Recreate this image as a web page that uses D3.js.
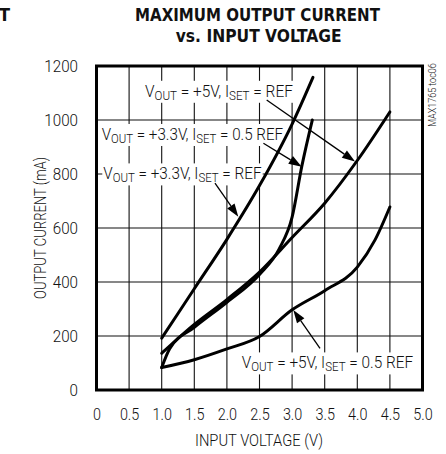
<!DOCTYPE html>
<html><head><meta charset="utf-8">
<script src="https://cdn.jsdelivr.net/npm/d3@7"></script>
<style>
html,body{margin:0;padding:0;background:#fff;}
svg{display:block;}
text{font-family:Roboto,'DejaVu Sans Condensed',sans-serif;font-weight:300;fill:#111;}
text.b{font-family:'DejaVu Sans Condensed','DejaVu Sans',sans-serif;font-weight:bold;}
</style></head>
<body>
<svg id="chart" width="446" height="454"></svg>
<script>
// ---- data ----
const xTicks = [0, 0.5, 1.0, 1.5, 2.0, 2.5, 3.0, 3.5, 4.0, 4.5, 5.0];
const xTickLabels = ["0","0.5","1.0","1.5","2.0","2.5","3.0","3.5","4.0","4.5","5.0"];
const yTicks = [0, 200, 400, 600, 800, 1000, 1200];
const yTickLabels = ["0","200","400","600","800","1000","1200"];

// VOUT = +3.3V, ISET = REF
const v33RefVin = [1.0, 1.5, 2.0, 2.5, 3.0, 3.32];
const v33RefI   = [192, 375, 558, 757, 985, 1158];
// VOUT = +3.3V, ISET = 0.5 REF
const v33HalfVin = [1.0, 1.12, 1.5, 2.0, 2.5, 2.8, 3.0, 3.15, 3.31];
const v33HalfI   = [83, 152, 232, 325, 428, 522, 640, 830, 1000];
// VOUT = +5V, ISET = REF
const v5RefVin = [1.0, 1.5, 2.0, 2.5, 3.0, 3.5, 4.0, 4.5];
const v5RefI   = [136, 243, 335, 437, 565, 692, 850, 1030];
// VOUT = +5V, ISET = 0.5 REF
const v5HalfVin = [1.0, 1.5, 2.0, 2.5, 3.0, 3.5, 4.0, 4.27, 4.5];
const v5HalfI   = [83, 112, 152, 198, 297, 368, 455, 555, 678];

const series = [
  {vin: v33RefVin, i: v33RefI},
  {vin: v33HalfVin, i: v33HalfI},
  {vin: v5RefVin, i: v5RefI},
  {vin: v5HalfVin, i: v5HalfI}
];

// ---- layout ----
const svg = d3.select("#chart");
const x = d3.scaleLinear().domain([0, 5]).range([96.5, 422.5]);
const y = d3.scaleLinear().domain([0, 1200]).range([390, 66]);

// horizontal fit helper
function fit(sel, target) {
  const n = sel.node();
  const w = n.getBBox().width;
  const k = target / w;
  const tx = +sel.attr("data-x"), ty = +sel.attr("data-y");
  sel.attr("x", 0).attr("y", 0)
     .attr("transform", `translate(${tx},${ty}) scale(${k},1)`);
  return k;
}

// title
const t1 = svg.append("text").attr("class","b").attr("data-x", 257.5).attr("data-y", 20.7).attr("text-anchor","middle")
  .attr("font-size", 18).text("MAXIMUM OUTPUT CURRENT");
fit(t1, 245);
const t2 = svg.append("text").attr("class","b").attr("data-x", 258.7).attr("data-y", 41.7).attr("text-anchor","middle")
  .attr("font-size", 18).text("vs. INPUT VOLTAGE");
fit(t2, 166);
svg.append("text").attr("class","b").attr("x", -1).attr("y", 20.7).attr("font-size", 18).text("T");

// grid
const g = svg.append("g");
g.selectAll("line.vg").data(xTicks.slice(1, -1)).join("line")
  .attr("x1", d => x(d)).attr("x2", d => x(d)).attr("y1", y(0)).attr("y2", y(1200))
  .attr("stroke", "#111").attr("stroke-width", 1.1);
g.selectAll("line.hg").data(yTicks.slice(1, -1)).join("line")
  .attr("y1", d => y(d)).attr("y2", d => y(d)).attr("x1", x(0)).attr("x2", x(5))
  .attr("stroke", "#111").attr("stroke-width", 1.1);

// axes labels
const xAxis = d3.axisBottom(x).tickValues(xTicks).tickSize(0).tickPadding(0)
  .tickFormat((d, i) => xTickLabels[i]);
const xa = svg.append("g").attr("transform", `translate(0,${y(0)})`).call(xAxis);
xa.select(".domain").remove();
xa.selectAll("text").attr("y", 30).attr("dy", 0).attr("font-size", 16).attr("fill","#111")
  .attr("font-family", null).attr("font-weight", 300)
  .each(function() {
    const s = d3.select(this), w = this.getBBox().width;
    const cx = +s.attr("x") || 0;
    s.attr("transform", `translate(${cx},0) scale(0.9,1)`).attr("x", 0);
  });

const yAxis = d3.axisLeft(y).tickValues(yTicks).tickSize(0).tickPadding(0)
  .tickFormat((d, i) => yTickLabels[i]);
const ya = svg.append("g").attr("transform", `translate(78,0)`).call(yAxis);
ya.select(".domain").remove();
ya.selectAll("text").attr("x", 0).attr("dy", "0.36em").attr("font-size", 16).attr("fill","#111")
  .attr("font-family", null).attr("font-weight", 300)
  .attr("transform", "scale(0.95,1)");

// axis titles
const xt = svg.append("text").attr("data-x", 259).attr("data-y", 446).attr("text-anchor","middle")
  .attr("font-size", 16).text("INPUT VOLTAGE (V)");
fit(xt, 128);
const yt = svg.append("text").attr("text-anchor","middle").attr("font-size", 16).text("OUTPUT CURRENT (mA)");
{
  const w = yt.node().getBBox().width;
  yt.attr("transform", `translate(46,${(y(0)+y(1200))/2}) rotate(-90) scale(${142 / w},1)`);
}

// watermark
const wm = svg.append("text").attr("text-anchor","middle").attr("font-size", 10).attr("fill","#555")
  .text("MAX1765 toc06");
{
  const w = wm.node().getBBox().width;
  wm.attr("transform", `translate(436,95) rotate(-90) scale(${64 / w},1)`);
}

// annotations (in data units)
const annos = [
  {pre:"V", sub1:"OUT", mid:" = +5V, I", sub2:"SET", post:" = REF", lx:0.744, ly:1086, w:148,
   tail:[2.61,1074], tip:[3.965,846]},
  {pre:"V", sub1:"OUT", mid:" = +3.3V, I", sub2:"SET", post:" = 0.5 REF", lx:0.08, ly:926, w:181.6,
   tail:[2.56,914], tip:[3.147,827]},
  {pre:"V", sub1:"OUT", mid:" = +3.3V, I", sub2:"SET", post:" = REF", lx:0.104, ly:780, w:158.4,
   tail:[1.817,766], tip:[2.175,642]},
  {pre:"V", sub1:"OUT", mid:" = +5V, I", sub2:"SET", post:" = 0.5 REF", lx:2.227, ly:80, w:171.6,
   tail:[3.428,154], tip:[3.018,296]}
];

const bgLayer = svg.append("g");
const curveLayer = svg.append("g");
const textLayer = svg.append("g");
const arrowLayer = svg.append("g");

annos.forEach(a => {
  const t = textLayer.append("text").attr("data-x", x(a.lx)).attr("data-y", y(a.ly))
    .attr("font-size", 16);
  t.append("tspan").text(a.pre);
  t.append("tspan").attr("font-size", 12).attr("dy", 3).text(a.sub1);
  t.append("tspan").attr("dy", -3).text(a.mid);
  t.append("tspan").attr("font-size", 12).attr("dy", 3).text(a.sub2);
  t.append("tspan").attr("dy", -3).text(a.post);
  const bb = t.node().getBBox();
  fit(t, a.w);
  bgLayer.append("rect")
    .attr("x", x(a.lx) - 1).attr("y", y(a.ly) + bb.y - 1)
    .attr("width", a.w + 2).attr("height", bb.height + 1)
    .attr("fill", "#fff");
  // arrow
  const x1 = x(a.tail[0]), y1 = y(a.tail[1]), x2 = x(a.tip[0]), y2 = y(a.tip[1]);
  const ang = Math.atan2(y2 - y1, x2 - x1);
  const L = 13, W = 4.5;
  const bx = x2 - L * Math.cos(ang), by = y2 - L * Math.sin(ang);
  arrowLayer.append("line").attr("x1", x1).attr("y1", y1).attr("x2", bx).attr("y2", by)
    .attr("stroke", "#000").attr("stroke-width", 1.3);
  const px = -Math.sin(ang) * W, py = Math.cos(ang) * W;
  arrowLayer.append("path")
    .attr("d", `M${x2},${y2}L${bx + px},${by + py}L${bx - px},${by - py}Z`)
    .attr("fill", "#000");
});

// curves
const line = d3.line().x(d => x(d[0])).y(d => y(d[1])).curve(d3.curveMonotoneX);
series.forEach(s => {
  const pts = s.vin.map((v, i) => [v, s.i[i]]);
  curveLayer.append("path").attr("d", line(pts)).attr("fill", "none")
    .attr("stroke", "#000").attr("stroke-width", 3).attr("stroke-linejoin","round").attr("stroke-linecap","round");
});

// frame
svg.append("rect").attr("x", x(0)).attr("y", y(1200)).attr("width", x(5) - x(0)).attr("height", y(0) - y(1200))
  .attr("fill", "none").attr("stroke", "#000").attr("stroke-width", 3);
</script>
</body></html>
